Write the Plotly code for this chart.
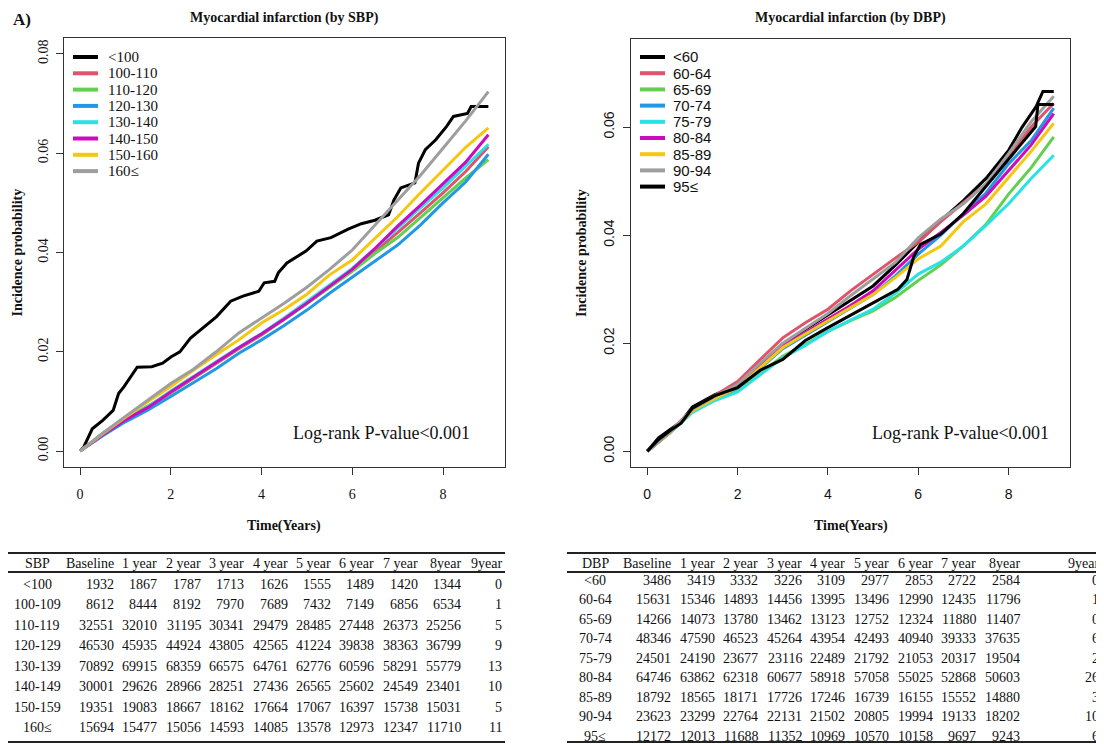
import plotly.graph_objects as go

# The page adds an 8 px body margin, so the figure is 8 px smaller and every
# position below is given in screenshot pixels and shifted by OFF.
SCREEN_W, SCREEN_H, OFF = 1104, 744, 8
FW, FH = SCREEN_W - OFF, SCREEN_H - OFF

# ---------------- data ----------------
SBP_GROUPS = ["<100", "100-110", "110-120", "120-130", "130-140", "140-150", "150-160", "160≤"]
DBP_GROUPS = ["<60", "60-64", "65-69", "70-74", "75-79", "80-84", "85-89", "90-94", "95≤"]
R_PALETTE = ["#000000", "#DF536B", "#61D04F", "#2297E6", "#28E2E5", "#CD0BBC", "#F5C710", "#9E9E9E"]

YEARS = [0, 0.5, 1, 1.5, 2, 2.5, 3, 3.5, 4, 4.5, 5, 5.5, 6, 6.5, 7, 7.5, 8, 8.5, 9]

# SBP panel (cumulative incidence)
SBP_LT100_T = [0, 0.08, 0.27, 0.5, 0.73, 0.85, 0.97, 1.16, 1.26, 1.58, 1.82, 2.01, 2.2, 2.43, 2.74,
               3.01, 3.32, 3.59, 3.94, 4.06, 4.29, 4.37, 4.56, 4.79, 4.98, 5.22, 5.53, 5.91, 6.2,
               6.5, 6.8, 6.92, 7.07, 7.38, 7.46, 7.61, 7.84, 8.08, 8.23, 8.54, 8.62, 9.0]
SBP_LT100_P = [0, 0.0008, 0.0045, 0.0062, 0.0082, 0.0116, 0.0130, 0.0157, 0.0169, 0.0170, 0.0177,
               0.0190, 0.0200, 0.0227, 0.0251, 0.0271, 0.0302, 0.0312, 0.0322, 0.0339, 0.0342,
               0.0359, 0.0379, 0.0393, 0.0403, 0.0423, 0.0430, 0.0447, 0.0458, 0.0465, 0.0476,
               0.0506, 0.0530, 0.0540, 0.0580, 0.0607, 0.0627, 0.0654, 0.0674, 0.0680, 0.0694, 0.0694]
SBP_100_110 = [0, .0032, .0062, .0088, .0117, .0147, .0176, .0206, .0234, .0265, .0297, .0331, .0365,
               .0402, .0440, .0480, .0520, .0563, .0613]
SBP_110_120 = [0, .0036, .0066, .0091, .0118, .0148, .0177, .0207, .0235, .0265, .0297, .0330, .0362,
               .0398, .0430, .0470, .0510, .0550, .0587]
SBP_120_130 = [0, .0031, .0059, .0083, .0110, .0138, .0166, .0197, .0224, .0253, .0284, .0318, .0350,
               .0383, .0415, .0455, .0500, .0542, .0598]
SBP_130_140 = [0, .0034, .0064, .0090, .0121, .0151, .0180, .0209, .0237, .0268, .0301, .0334, .0368,
               .0408, .0450, .0490, .0530, .0573, .0618]
SBP_140_150 = [0, .0033, .0063, .0088, .0119, .0149, .0178, .0208, .0236, .0266, .0298, .0332, .0366,
               .0408, .0453, .0495, .0538, .0582, .0637]
SBP_150_160 = [0, .0035, .0068, .0100, .0130, .0163, .0194, .0224, .0258, .0285, .0316, .0355, .0385,
               .0428, .0472, .0520, .0565, .0612, .0651]
SBP_GE160 = [0, .0036, .0070, .0103, .0136, .0165, .0200, .0238, .0268, .0298, .0330, .0366, .0405,
             .0455, .0505, .0555, .0610, .0665, .0724]

# DBP panel
DBP_LT60_T = [0, 0.25, 0.5, 0.75, 1, 1.5, 2, 2.5, 3, 3.5, 4, 4.5, 5, 5.5, 6, 6.5, 7, 7.5, 8, 8.3,
              8.61, 8.76, 9.0]
DBP_LT60_P = [0, .0025, .0040, .0055, .0082, .0105, .0122, .0160, .0198, .0226, .0253, .0280, .0306,
              .0345, .0387, .0427, .0464, .0505, .0557, .0600, .0638, .0666, .0666]
DBP_60_64 = [0, .0036, .0078, .0103, .0129, .0170, .0210, .0238, .0263, .0297, .0328, .0358, .0387,
             .0425, .0460, .0495, .0545, .0600, .0644]
DBP_65_69 = [0, .0034, .0073, .0095, .0113, .0145, .0176, .0198, .0222, .0242, .0260, .0285, .0316,
             .0345, .0380, .0420, .0476, .0525, .0582]
DBP_70_74 = [0, .0035, .0075, .0098, .0117, .0154, .0190, .0215, .0240, .0265, .0290, .0325, .0365,
             .0400, .0440, .0478, .0532, .0575, .0635]
DBP_75_79 = [0, .0034, .0072, .0094, .0110, .0142, .0173, .0196, .0222, .0243, .0263, .0293, .0328,
             .0350, .0380, .0418, .0458, .0505, .0548]
DBP_80_84 = [0, .0035, .0076, .0100, .0120, .0158, .0195, .0220, .0245, .0270, .0297, .0335, .0374,
             .0405, .0437, .0472, .0520, .0567, .0625]
DBP_85_89 = [0, .0035, .0075, .0098, .0118, .0155, .0192, .0217, .0241, .0266, .0290, .0322, .0356,
             .0380, .0425, .0458, .0507, .0555, .0607]
DBP_90_94 = [0, .0036, .0078, .0102, .0124, .0163, .0200, .0228, .0255, .0288, .0319, .0350, .0395,
             .0430, .0458, .0495, .0551, .0610, .0657]
DBP_GE95_T = [0, 0.25, 0.5, 0.75, 1, 1.5, 2, 2.5, 3, 3.5, 4, 4.5, 5, 5.3, 5.55, 5.75, 5.9, 6.05,
              6.5, 7, 7.5, 8, 8.5, 8.6, 8.65, 9.0]
DBP_GE95_P = [0, .0022, .0038, .0052, .0080, .0103, .0118, .0150, .0170, .0205, .0229, .0252, .0275,
              .0290, .0300, .0318, .0360, .0383, .0402, .0440, .0490, .0540, .0590, .0601, .0642, .0642]

# risk tables
TABLE_HEADERS = ["Baseline", "1 year", "2 year", "3 year", "4 year", "5 year", "6 year", "7 year",
                 "8year", "9year"]
SBP_ROWS = ["<100", "100-109", "110-119", "120-129", "130-139", "140-149", "150-159", "160≤"]
SBP_N_LT100 = [1932, 1867, 1787, 1713, 1626, 1555, 1489, 1420, 1344, 0]
SBP_N_100 = [8612, 8444, 8192, 7970, 7689, 7432, 7149, 6856, 6534, 1]
SBP_N_110 = [32551, 32010, 31195, 30341, 29479, 28485, 27448, 26373, 25256, 5]
SBP_N_120 = [46530, 45935, 44924, 43805, 42565, 41224, 39838, 38363, 36799, 9]
SBP_N_130 = [70892, 69915, 68359, 66575, 64761, 62776, 60596, 58291, 55779, 13]
SBP_N_140 = [30001, 29626, 28966, 28251, 27436, 26565, 25602, 24549, 23401, 10]
SBP_N_150 = [19351, 19083, 18667, 18162, 17664, 17067, 16397, 15738, 15031, 5]
SBP_N_160 = [15694, 15477, 15056, 14593, 14085, 13578, 12973, 12347, 11710, 11]

DBP_ROWS = ["<60", "60-64", "65-69", "70-74", "75-79", "80-84", "85-89", "90-94", "95≤"]
DBP_N_LT60 = [3486, 3419, 3332, 3226, 3109, 2977, 2853, 2722, 2584, 0]
DBP_N_60 = [15631, 15346, 14893, 14456, 13995, 13496, 12990, 12435, 11796, 1]
DBP_N_65 = [14266, 14073, 13780, 13462, 13123, 12752, 12324, 11880, 11407, 0]
DBP_N_70 = [48346, 47590, 46523, 45264, 43954, 42493, 40940, 39333, 37635, 6]
DBP_N_75 = [24501, 24190, 23677, 23116, 22489, 21792, 21053, 20317, 19504, 2]
DBP_N_80 = [64746, 63862, 62318, 60677, 58918, 57058, 55025, 52868, 50603, 26]
DBP_N_85 = [18792, 18565, 18171, 17726, 17246, 16739, 16155, 15552, 14880, 3]
DBP_N_90 = [23623, 23299, 22764, 22131, 21502, 20805, 19994, 19133, 18202, 10]
DBP_N_95 = [12172, 12013, 11688, 11352, 10969, 10570, 10158, 9697, 9243, 6]

X_TICKS = [0, 2, 4, 6, 8]
SBP_Y_TICKS = [0, 0.02, 0.04, 0.06, 0.08]
DBP_Y_TICKS = [0, 0.02, 0.04, 0.06]

# ---------------- assemble ----------------
sbp_series = [
    (SBP_LT100_T, SBP_LT100_P),
    (YEARS, SBP_100_110), (YEARS, SBP_110_120), (YEARS, SBP_120_130), (YEARS, SBP_130_140),
    (YEARS, SBP_140_150), (YEARS, SBP_150_160), (YEARS, SBP_GE160),
]
dbp_series = [
    (DBP_LT60_T, DBP_LT60_P),
    (YEARS, DBP_60_64), (YEARS, DBP_65_69), (YEARS, DBP_70_74), (YEARS, DBP_75_79),
    (YEARS, DBP_80_84), (YEARS, DBP_85_89), (YEARS, DBP_90_94), (DBP_GE95_T, DBP_GE95_P),
]
sbp_table = [SBP_N_LT100, SBP_N_100, SBP_N_110, SBP_N_120, SBP_N_130, SBP_N_140, SBP_N_150, SBP_N_160]
dbp_table = [DBP_N_LT60, DBP_N_60, DBP_N_65, DBP_N_70, DBP_N_75, DBP_N_80, DBP_N_85, DBP_N_90, DBP_N_95]

SERIF = "Liberation Serif, Times New Roman, serif"
SANS = "Liberation Sans, Arial, sans-serif"
INK = "#111111"


def px(x):
    return (x - OFF) / FW


def py(y):
    return 1 - (y - OFF) / FH


fig = go.Figure()

for i, ((t, p), name) in enumerate(zip(sbp_series, SBP_GROUPS)):
    fig.add_trace(go.Scatter(x=t, y=p, mode="lines", name=name, showlegend=False,
                             line=dict(color=R_PALETTE[i % 8], width=3),
                             xaxis="x", yaxis="y"))
for i, ((t, p), name) in enumerate(zip(dbp_series, DBP_GROUPS)):
    fig.add_trace(go.Scatter(x=t, y=p, mode="lines", name=name, showlegend=False,
                             line=dict(color=R_PALETTE[i % 8], width=3),
                             xaxis="x2", yaxis="y2"))

# panel geometry (screen pixels: left, right, top, bottom)
L_BOX = (63.7, 504.7, 38, 467)
R_BOX = (631, 1070, 39, 467)

axis_common = dict(showgrid=False, zeroline=False, showline=True, mirror=True,
                   linecolor="#333333", linewidth=1.2, ticks="outside", ticklen=7,
                   tickwidth=1.1, tickcolor="#333333")

fig.update_layout(
    width=FW, height=FH, margin=dict(l=0, r=0, t=0, b=0),
    paper_bgcolor="white", plot_bgcolor="white", showlegend=False,
    xaxis=dict(domain=[px(L_BOX[0]), px(L_BOX[1])], range=[-0.36, 9.36], tickvals=X_TICKS,
               tickfont=dict(family=SERIF, size=14, color=INK), ticklabelstandoff=7,
               anchor="y", **axis_common),
    yaxis=dict(domain=[py(L_BOX[3]), py(L_BOX[2])], range=[-0.0032, 0.0832], tickvals=SBP_Y_TICKS,
               ticktext=[f"{v:.2f}" for v in SBP_Y_TICKS], tickangle=-90,
               tickfont=dict(family=SERIF, size=14, color=INK), ticklabelstandoff=2,
               anchor="x", **axis_common),
    xaxis2=dict(domain=[px(R_BOX[0]), px(R_BOX[1])], range=[-0.36, 9.36], tickvals=X_TICKS,
                tickfont=dict(family=SANS, size=14, color=INK), ticklabelstandoff=7,
                anchor="y2", **axis_common),
    yaxis2=dict(domain=[py(R_BOX[3]), py(R_BOX[2])], range=[-0.0029, 0.0763], tickvals=DBP_Y_TICKS,
                ticktext=[f"{v:.2f}" for v in DBP_Y_TICKS], tickangle=-90,
                tickfont=dict(family=SANS, size=14, color=INK), ticklabelstandoff=3,
                anchor="x2", **axis_common),
)

annotations = []
shapes = []


def text(x, y, s, size=14, family=SERIF, anchor="center", angle=0, bold=False):
    annotations.append(dict(x=px(x), y=py(y), xref="paper", yref="paper", text=f"<b>{s}</b>" if bold else s,
                            showarrow=False, xanchor=anchor, yanchor="middle", textangle=angle,
                            borderpad=0, font=dict(family=family, size=size, color=INK)))


def hline(x0, x1, y, color, width):
    shapes.append(dict(type="line", xref="paper", yref="paper", x0=px(x0), x1=px(x1),
                       y0=py(y), y1=py(y), line=dict(color=color, width=width)))


# titles and axis labels
text(22, 19.5, "A)", size=17, bold=True)
text((L_BOX[0] + L_BOX[1]) / 2, 17.5, "Myocardial infarction (by SBP)", size=14, bold=True)
text((R_BOX[0] + R_BOX[1]) / 2, 17.5, "Myocardial infarction (by DBP)", size=14, bold=True)
text(17, (L_BOX[2] + L_BOX[3]) / 2, "Incidence probability", size=14, angle=-90, bold=True)
text(582, (R_BOX[2] + R_BOX[3]) / 2, "Incidence probability", size=14, angle=-90, bold=True)
text((L_BOX[0] + L_BOX[1]) / 2, 526, "Time(Years)", size=14, bold=True)
text((R_BOX[0] + R_BOX[1]) / 2, 526, "Time(Years)", size=14, bold=True)
text(471, 433, "Log-rank P-value<0.001", size=18, anchor="right")
text(1050, 433, "Log-rank P-value<0.001", size=18, anchor="right")

# legends
for i, name in enumerate(SBP_GROUPS):
    yy = 57 + 16.3 * i
    hline(73, 98, yy, R_PALETTE[i % 8], 4)
    text(107, yy, name, size=15, anchor="left")
for i, name in enumerate(DBP_GROUPS):
    yy = 57 + 16.2 * i
    hline(640, 665, yy, R_PALETTE[i % 8], 4)
    text(672, yy, name, size=15, family=SANS, anchor="left")


# tables
def draw_table(x0, x1, label_center, first_right, step, last_right, corner, row_labels, rows,
               first_row_y, row_step):
    rights = [first_right + step * k for k in range(len(TABLE_HEADERS) - 1)] + [last_right]
    for yy, wdt in ((553, 2), (572, 1.8), (742, 2)):
        hline(x0, x1, yy, "#222222", wdt)
    text(label_center, 563.5, corner, size=14)
    for h, r in zip(TABLE_HEADERS, rights):
        text(r, 563.5, h, size=14, anchor="right")
    for j, (lab, vals) in enumerate(zip(row_labels, rows)):
        yy = first_row_y + row_step * j
        text(label_center, yy, lab, size=14)
        for v, r in zip(vals, rights):
            text(r, yy, str(v), size=14, anchor="right")


draw_table(OFF, 505, 37, 115, 43.4, 503, "SBP", SBP_ROWS, sbp_table, 584, 20.5)
draw_table(567, SCREEN_W, 595, 672, 43.6, 1100, "DBP", DBP_ROWS, dbp_table, 580, 19.5)

fig.update_layout(annotations=annotations, shapes=shapes)
fig.write_html("out.html")
